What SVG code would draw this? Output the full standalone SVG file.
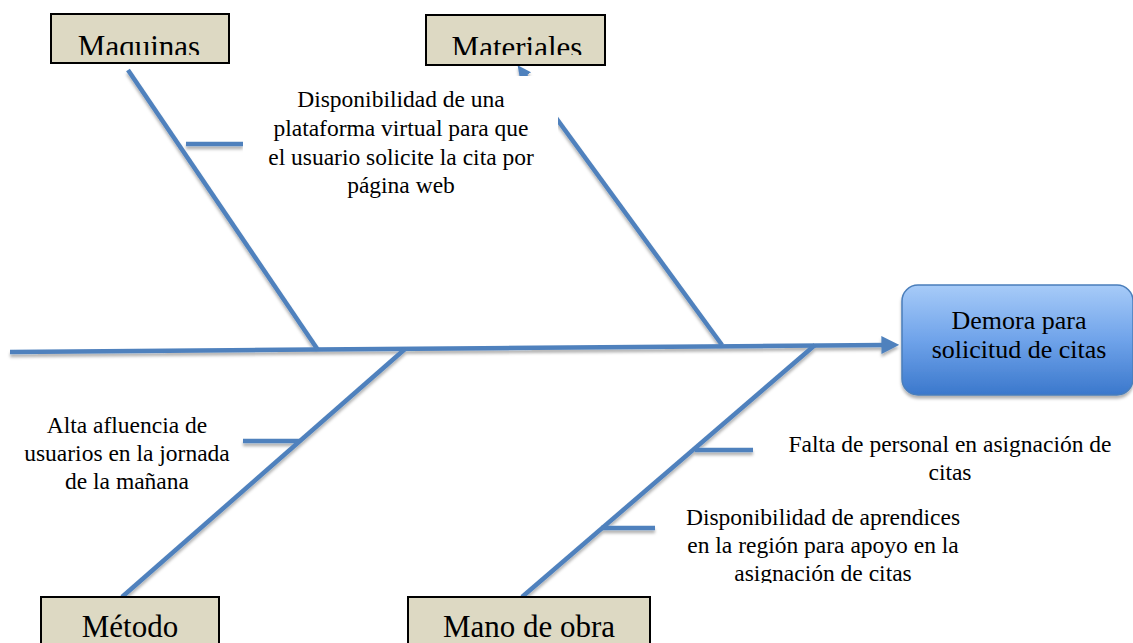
<svg xmlns="http://www.w3.org/2000/svg" width="1133" height="643" viewBox="0 0 1133 643">
  <defs>
    <style>
      .bone { stroke: #4f81bd; stroke-width: 4.5; fill: none; stroke-linecap: butt; }
      .cat { fill: #ddd9c3; stroke: #000; stroke-width: 2; }
      .catText { font-family: "Liberation Serif", "Times New Roman", serif; font-size: 31px; fill: #000; text-anchor: middle; }
      .lbl { font-family: "Liberation Serif", "Times New Roman", serif; font-size: 23.5px; fill: #000; text-anchor: middle; }
      .eff { font-family: "Liberation Serif", "Times New Roman", serif; font-size: 26px; fill: #000; text-anchor: middle; }
    </style>
    <linearGradient id="effGrad" x1="0" y1="0" x2="0" y2="1">
      <stop offset="0" stop-color="#a7cbf8"/>
      <stop offset="0.5" stop-color="#6fa3ea"/>
      <stop offset="1" stop-color="#3b78cc"/>
    </linearGradient>
    <filter id="shadow" x="-10%" y="-10%" width="120%" height="130%">
      <feDropShadow dx="0" dy="3" stdDeviation="1.5" flood-color="#000" flood-opacity="0.3"/>
    </filter>
    <marker id="arrow" viewBox="0 0 10 10" refX="2" refY="5" markerWidth="4" markerHeight="4" orient="auto" markerUnits="strokeWidth">
      <path d="M0,0 L10,5 L0,10 z" fill="#4f81bd"/>
    </marker>
    <marker id="arrowSmall" viewBox="0 0 10 10" refX="2" refY="5" markerWidth="3" markerHeight="3" orient="auto" markerUnits="strokeWidth">
      <path d="M0,0 L10,5 L0,10 z" fill="#4f81bd"/>
    </marker>
    <clipPath id="clipMaq"><rect x="51" y="14" width="178" height="41"/></clipPath>
    <clipPath id="clipMat"><rect x="426" y="15" width="179" height="40"/></clipPath>
    <clipPath id="clipApr"><rect x="600" y="500" width="420" height="83"/></clipPath>
  </defs>

  <g id="connectors" filter="url(#shadow)">
    <line class="bone" x1="10" y1="352" x2="885" y2="345" marker-end="url(#arrow)"/>
    <line class="bone" x1="128" y1="70" x2="318" y2="350"/>
    <line class="bone" x1="722" y1="345" x2="524" y2="74" marker-end="url(#arrowSmall)"/>
    <line class="bone" x1="405" y1="349" x2="122" y2="597"/>
    <line class="bone" x1="815" y1="345" x2="522" y2="597"/>
    <line class="bone" x1="186" y1="144" x2="243" y2="144"/>
    <line class="bone" x1="243" y1="441" x2="300" y2="441"/>
    <line class="bone" x1="695" y1="450" x2="753" y2="450"/>
    <line class="bone" x1="601" y1="528" x2="655" y2="528"/>
  </g>

  <g id="cause-plataforma">
    <rect x="243" y="76" width="315" height="124" fill="#ffffff"/>
    <text class="lbl" x="401" y="107">Disponibilidad de una</text>
    <text class="lbl" x="401" y="136">plataforma virtual para que</text>
    <text class="lbl" x="401" y="165">el usuario solicite la cita por</text>
    <text class="lbl" x="401" y="193">página web</text>
  </g>

  <g id="cause-afluencia">
    <text class="lbl" x="127" y="433">Alta afluencia de</text>
    <text class="lbl" x="127" y="461">usuarios en la jornada</text>
    <text class="lbl" x="127" y="489">de la mañana</text>
  </g>

  <g id="cause-personal">
    <text class="lbl" x="950" y="452">Falta de personal en asignación de</text>
    <text class="lbl" x="950" y="480">citas</text>
  </g>

  <g id="cause-aprendices" clip-path="url(#clipApr)">
    <text class="lbl" x="823" y="525">Disponibilidad de aprendices</text>
    <text class="lbl" x="823" y="553">en la región para apoyo en la</text>
    <text class="lbl" x="823" y="581">asignación de citas</text>
  </g>

  <g id="cat-maquinas">
    <rect class="cat" x="51" y="14" width="178" height="49"/>
    <text class="catText" x="139" y="57" clip-path="url(#clipMaq)">Maquinas</text>
  </g>

  <g id="cat-materiales">
    <rect class="cat" x="426" y="15" width="179" height="50"/>
    <text class="catText" x="517" y="58" clip-path="url(#clipMat)">Materiales</text>
  </g>

  <g id="cat-metodo">
    <rect class="cat" x="41" y="597" width="178" height="60"/>
    <text class="catText" x="130" y="637">Método</text>
  </g>

  <g id="cat-manodeobra">
    <rect class="cat" x="408" y="597" width="242" height="60"/>
    <text class="catText" x="529" y="637">Mano de obra</text>
  </g>

  <g id="effect">
    <rect x="902" y="285" width="231" height="110" rx="16" ry="16" fill="url(#effGrad)" stroke="#4a7ebb" stroke-width="1.5" filter="url(#shadow)"/>
    <text class="eff" x="1019" y="329">Demora para</text>
    <text class="eff" x="1019" y="358">solicitud de citas</text>
  </g>
</svg>
